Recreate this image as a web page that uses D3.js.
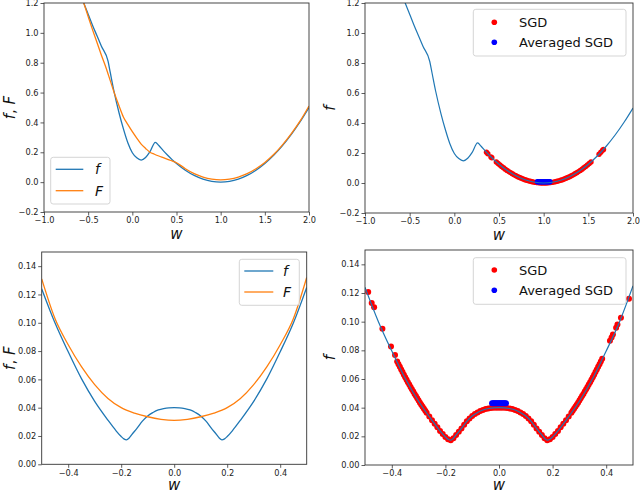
<!DOCTYPE html>
<html><head><meta charset="utf-8">
<script src="https://cdn.jsdelivr.net/npm/d3@7"></script>
<style>
body{margin:0;background:#fff;}
svg{display:block;font-family:"DejaVu Sans",sans-serif;}
</style></head><body>
<svg id="c" width="640" height="492"></svg>
<script>
// ---------- data ----------
// top panels: f (blue) and F (orange) on [-1,2]
const topCurveW = [-0.60,-0.55,-0.50,-0.45,-0.40,-0.35,-0.275,-0.25,-0.21,-0.15,-0.10,-0.05,0.00,0.05,0.10,0.15,0.20,0.26,0.30,0.35,0.40,0.45,0.50,0.60,0.70,0.80,0.90,1.00,1.10,1.20,1.30,1.40,1.50,1.60,1.70,1.80,1.90,2.00];
const topCurveF = [1.28,1.20,1.125,1.05,0.98,0.91,0.81,0.735,0.615,0.463,0.355,0.262,0.197,0.163,0.148,0.165,0.204,0.267,0.245,0.211,0.18,0.151,0.125,0.08,0.045,0.02,0.005,0.0,0.005,0.02,0.045,0.08,0.125,0.18,0.245,0.32,0.405,0.50];
const topSmoothW = [-0.60,-0.55,-0.50,-0.45,-0.40,-0.35,-0.30,-0.25,-0.20,-0.15,-0.10,-0.05,0.00,0.05,0.10,0.15,0.20,0.25,0.30,0.35,0.40,0.45,0.50,0.60,0.70,0.80,0.90,1.00,1.10,1.20,1.30,1.40,1.50,1.60,1.70,1.80,1.90,2.00];
const topSmoothF = [1.29,1.20,1.11,1.02,0.935,0.85,0.77,0.68,0.59,0.51,0.435,0.385,0.338,0.295,0.255,0.226,0.20,0.187,0.175,0.164,0.153,0.142,0.13,0.09,0.057,0.034,0.02,0.015,0.02,0.034,0.057,0.09,0.132,0.185,0.25,0.325,0.41,0.51];

// bottom panels: f (blue) and F (orange) on [-0.5,0.5]
const botCurveW = [-0.50,-0.45,-0.40,-0.35,-0.30,-0.25,-0.22,-0.20,-0.19,-0.18,-0.17,-0.16,-0.14,-0.12,-0.10,-0.08,-0.06,-0.04,-0.02,0.00,0.02,0.04,0.06,0.08,0.10,0.12,0.14,0.16,0.17,0.18,0.19,0.20,0.22,0.25,0.30,0.35,0.40,0.45,0.50];
const botCurveF = [0.124,0.100,0.0795,0.0605,0.0445,0.0312,0.0238,0.0196,0.0180,0.0173,0.0186,0.0210,0.0255,0.0305,0.0342,0.0366,0.0384,0.0394,0.0399,0.0400,0.0399,0.0394,0.0384,0.0366,0.0342,0.0305,0.0255,0.0210,0.0186,0.0173,0.0180,0.0196,0.0238,0.0312,0.0445,0.0605,0.0795,0.100,0.125];
const botSmoothW = [-0.50,-0.45,-0.40,-0.35,-0.30,-0.25,-0.20,-0.15,-0.10,-0.05,0.00,0.05,0.10,0.15,0.20,0.25,0.30,0.35,0.40,0.45,0.50];
const botSmoothF = [0.131,0.103,0.0845,0.069,0.0563,0.0465,0.040,0.0362,0.0336,0.0318,0.031,0.0318,0.0336,0.0362,0.040,0.0465,0.0563,0.069,0.0845,0.103,0.132];

// SGD iterates (red) and averaged SGD (blue), [w, f]
const sgdTop = [[0.36,0.205],[0.375,0.195],[0.41,0.174],[0.42,0.168],
 [0.47,0.1405],[0.49,0.1301],[0.51,0.1201],[0.53,0.1105],[0.55,0.1013],[0.57,0.0925],[0.59,0.0841],[0.61,0.0761],[0.63,0.0685],[0.65,0.0613],[0.67,0.0545],[0.69,0.0481],[0.71,0.0421],[0.73,0.0365],[0.75,0.0313],[0.77,0.0265],[0.79,0.0221],[0.81,0.0181],[0.83,0.0145],[0.85,0.0113],[0.87,0.0085],[0.89,0.0061],[0.91,0.0041],[0.93,0.0025],[0.95,0.0013],[0.97,0.0005],[0.99,0.0001],
 [1.01,0.0001],[1.03,0.0005],[1.05,0.0013],[1.07,0.0025],[1.09,0.0041],[1.11,0.0061],[1.13,0.0085],[1.15,0.0113],[1.17,0.0145],[1.19,0.0181],[1.21,0.0221],[1.23,0.0265],[1.25,0.0313],[1.27,0.0365],[1.29,0.0421],[1.31,0.0481],[1.33,0.0545],[1.35,0.0613],[1.37,0.0685],[1.39,0.0761],[1.41,0.0841],[1.43,0.0925],[1.45,0.1013],[1.47,0.1105],[1.49,0.1201],[1.51,0.1301],[1.53,0.1405],
 [1.62,0.192],[1.64,0.205],[1.66,0.218],[1.67,0.224]];
const avgTop = [[0.93,0.008],[0.94,0.008],[0.95,0.008],[0.96,0.008],[0.97,0.008],[0.98,0.008],[0.99,0.008],[1.00,0.008],[1.01,0.008],[1.02,0.008],[1.03,0.008],[1.04,0.008],[1.05,0.008],[1.06,0.008],[1.07,0.008]];

const sgdBot = [[-0.488,0.1207],[-0.475,0.113],[-0.466,0.110],[-0.435,0.095],[-0.403,0.0826],[-0.388,0.0768],
 [-0.380,0.0722],[-0.375,0.0703],[-0.370,0.0685],[-0.365,0.0666],[-0.360,0.0648],[-0.355,0.0630],[-0.350,0.0613],[-0.345,0.0595],[-0.340,0.0578],[-0.335,0.0561],[-0.330,0.0545],[-0.325,0.0528],[-0.320,0.0512],[-0.315,0.0496],[-0.310,0.0481],[-0.305,0.0465],[-0.300,0.0450],[-0.295,0.0435],[-0.290,0.0421],[-0.285,0.0406],[-0.280,0.0392],[-0.275,0.0378],[-0.270,0.0365],
 [-0.26,0.0338],[-0.25,0.0313],[-0.24,0.0288],[-0.23,0.0263],[-0.22,0.0238],[-0.21,0.0216],[-0.20,0.0196],[-0.19,0.0180],[-0.18,0.0173],[-0.17,0.0186],[-0.16,0.0210],[-0.15,0.0232],[-0.14,0.0255],[-0.13,0.0281],[-0.12,0.0305],[-0.11,0.0325],[-0.10,0.0342],[-0.09,0.0355],[-0.08,0.0366],[-0.07,0.0376],[-0.06,0.0384],[-0.05,0.0390],[-0.04,0.0394],[-0.03,0.0397],[-0.02,0.0399],[-0.01,0.0400],[0.00,0.0400],
 [0.01,0.0400],[0.02,0.0399],[0.03,0.0397],[0.04,0.0394],[0.05,0.0390],[0.06,0.0384],[0.07,0.0376],[0.08,0.0366],[0.09,0.0355],[0.10,0.0342],[0.11,0.0325],[0.12,0.0305],[0.13,0.0281],[0.14,0.0255],[0.15,0.0232],[0.16,0.0210],[0.17,0.0186],[0.18,0.0173],[0.19,0.0180],[0.20,0.0196],[0.21,0.0216],[0.22,0.0238],[0.23,0.0263],[0.24,0.0288],[0.25,0.0313],[0.26,0.0338],
 [0.270,0.0365],[0.275,0.0378],[0.280,0.0392],[0.285,0.0406],[0.290,0.0421],[0.295,0.0435],[0.300,0.0450],[0.305,0.0465],[0.310,0.0481],[0.315,0.0496],[0.320,0.0512],[0.325,0.0528],[0.330,0.0545],[0.335,0.0561],[0.340,0.0578],[0.345,0.0595],[0.350,0.0613],[0.355,0.0630],[0.360,0.0648],[0.365,0.0666],[0.370,0.0685],[0.375,0.0703],[0.380,0.0722],[0.385,0.0741],
 [0.414,0.0866],[0.420,0.089],[0.425,0.091],[0.437,0.0958],[0.442,0.098],[0.455,0.1028],[0.485,0.116]];
const avgBot = [[-0.026,0.043],[-0.022,0.043],[-0.018,0.043],[-0.014,0.043],[-0.010,0.043],[-0.006,0.043],[-0.002,0.043],[0.002,0.043],[0.006,0.043],[0.010,0.043],[0.014,0.043],[0.018,0.043],[0.022,0.043],[0.026,0.043]];

// ticks
const topXTicks = [-1.0,-0.5,0.0,0.5,1.0,1.5,2.0];
const topYTicks = [-0.2,0.0,0.2,0.4,0.6,0.8,1.0,1.2];
const botXTicks = [-0.4,-0.2,0.0,0.2,0.4];
const botYTicks = [0.00,0.02,0.04,0.06,0.08,0.10,0.12,0.14];

const lineLegend = ["f","F"];
const dotLegend = ["SGD","Averaged SGD"];

// ---------- drawing ----------
const BLUE="#1f77b4", ORANGE="#ff7f0e";
const svg = d3.select("#c");
const zip = (a,b)=>a.map((v,i)=>[v,b[i]]);

function panel(c, id){
  const x = d3.scaleLinear().domain(c.xd).range([c.L,c.R]);
  const y = d3.scaleLinear().domain(c.yd).range([c.B,c.T]);
  const g = svg.append("g");
  g.append("clipPath").attr("id","clip"+id).append("rect")
    .attr("x",c.L).attr("y",c.T).attr("width",c.R-c.L).attr("height",c.B-c.T);
  const plot = g.append("g").attr("clip-path",`url(#clip${id})`);
  const line = d3.line().x(d=>x(d[0])).y(d=>y(d[1])).curve(d3.curveMonotoneX);

  if(c.sgd){
    plot.selectAll("circle.sgd").data(c.sgd).join("circle").attr("class","sgd")
      .attr("cx",d=>x(d[0])).attr("cy",d=>y(d[1])).attr("r",c.r).attr("fill","#ff0000");
    plot.selectAll("circle.avg").data(c.avg).join("circle").attr("class","avg")
      .attr("cx",d=>x(d[0])).attr("cy",d=>y(d[1])).attr("r",c.r).attr("fill","#0000ff");
  }
  if(c.smooth){
    plot.append("path").attr("d",line(c.curve)).attr("fill","none").attr("stroke",BLUE).attr("stroke-width",1.3);
    plot.append("path").attr("d",line(c.smooth)).attr("fill","none").attr("stroke",ORANGE).attr("stroke-width",1.3);
  } else {
    plot.append("path").attr("d",line(c.curve)).attr("fill","none").attr("stroke",BLUE).attr("stroke-width",1.2);
  }

  const ax = g.append("g").attr("transform",`translate(0,${c.B})`)
    .call(d3.axisBottom(x).tickValues(c.xt).tickFormat(d3.format(c.xf)).tickSize(3.5).tickPadding(2).tickSizeOuter(0));
  const ay = g.append("g").attr("transform",`translate(${c.L},0)`)
    .call(d3.axisLeft(y).tickValues(c.yt).tickFormat(d3.format(c.yf)).tickSize(3.5).tickPadding(2).tickSizeOuter(0));
  [ax,ay].forEach(a=>{
    a.attr("font-size",8.2).attr("font-family","DejaVu Sans");
    a.select(".domain").remove();
    a.selectAll("line").attr("stroke","#333").attr("stroke-width",0.8);
    a.selectAll("text").attr("fill","#222");
  });
  g.append("rect").attr("x",c.L).attr("y",c.T).attr("width",c.R-c.L).attr("height",c.B-c.T)
    .attr("fill","none").attr("stroke","#333").attr("stroke-width",0.9);

  // axis labels
  g.append("text").attr("x",(c.L+c.R)/2).attr("y",c.B+c.xly).attr("text-anchor","middle")
    .attr("font-size",15).attr("font-style","italic").attr("fill","#111").text("w");
  const yl = g.append("text").attr("transform",`translate(${c.ylx},${(c.T+c.B)/2}) rotate(-90)`)
    .attr("text-anchor","middle").attr("font-size",15).attr("fill","#111");
  if(c.smooth){
    yl.append("tspan").attr("font-style","italic").text("f");
    yl.append("tspan").text(", ");
    yl.append("tspan").attr("font-style","italic").text("F");
  } else {
    yl.append("tspan").attr("font-style","italic").text("f");
  }

  // legend
  const lg = c.lg;
  g.append("rect").attr("x",lg.x).attr("y",lg.y).attr("width",lg.w).attr("height",lg.h)
    .attr("rx",2.5).attr("fill","#fff").attr("fill-opacity",0.85).attr("stroke","#d0d0d0").attr("stroke-width",0.9);
  if(c.smooth){
    const cols=[BLUE,ORANGE];
    lineLegend.forEach((t,i)=>{
      const yy = lg.rows[i];
      g.append("line").attr("x1",lg.lx1).attr("x2",lg.lx2).attr("y1",yy).attr("y2",yy).attr("stroke",cols[i]).attr("stroke-width",1.3);
      g.append("text").attr("x",lg.tx).attr("y",yy+5).attr("font-size",14).attr("font-style","italic").attr("fill","#111").text(t);
    });
  } else {
    const cols=["#ff0000","#0000ff"];
    dotLegend.forEach((t,i)=>{
      const yy = lg.rows[i];
      g.append("circle").attr("cx",lg.dx).attr("cy",yy).attr("r",2.8).attr("fill",cols[i]);
      g.append("text").attr("x",lg.tx).attr("y",yy+4.8).attr("font-size",13).attr("fill","#111").text(t);
    });
  }
}

panel({L:44,R:309,T:3,B:212,xd:[-1,2],yd:[-0.2,1.2],xt:topXTicks,yt:topYTicks,xf:".1f",yf:".1f",
  curve:zip(topCurveW,topCurveF),smooth:zip(topSmoothW,topSmoothF),ylx:15,xly:26.5,
  lg:{x:50.7,y:157.3,w:59.3,h:46.7,rows:[169.3,190.7],lx1:55.7,lx2:83.3,tx:95}},1);
panel({L:365,R:633,T:3,B:213,xd:[-1,2],yd:[-0.2,1.2],xt:topXTicks,yt:topYTicks,xf:".1f",yf:".1f",
  curve:zip(topCurveW,topCurveF),sgd:sgdTop,avg:avgTop,r:2.7,ylx:335,xly:26.5,
  lg:{x:473.3,y:9.3,w:152.7,h:46.7,rows:[22.3,42.3],dx:494.3,tx:519}},2);
panel({L:41.7,R:306.7,T:252,B:464.3,xd:[-0.5,0.5],yd:[0,0.15],xt:botXTicks,yt:botYTicks,xf:".1f",yf:".2f",
  curve:zip(botCurveW,botCurveF),smooth:zip(botSmoothW,botSmoothF),ylx:15,xly:25.6,
  lg:{x:239.3,y:259.3,w:60,h:46,rows:[271,292],lx1:244.3,lx2:273.3,tx:283}},3);
panel({L:365,R:633,T:250,B:465,xd:[-0.5,0.5],yd:[0,0.15],xt:botXTicks,yt:botYTicks,xf:".1f",yf:".2f",
  curve:zip(botCurveW,botCurveF),sgd:sgdBot,avg:avgBot,r:3.0,ylx:335,xly:24.9,
  lg:{x:473.3,y:257.7,w:152.7,h:46.6,rows:[270,290.3],dx:494.3,tx:519}},4);
</script>
</body></html>
